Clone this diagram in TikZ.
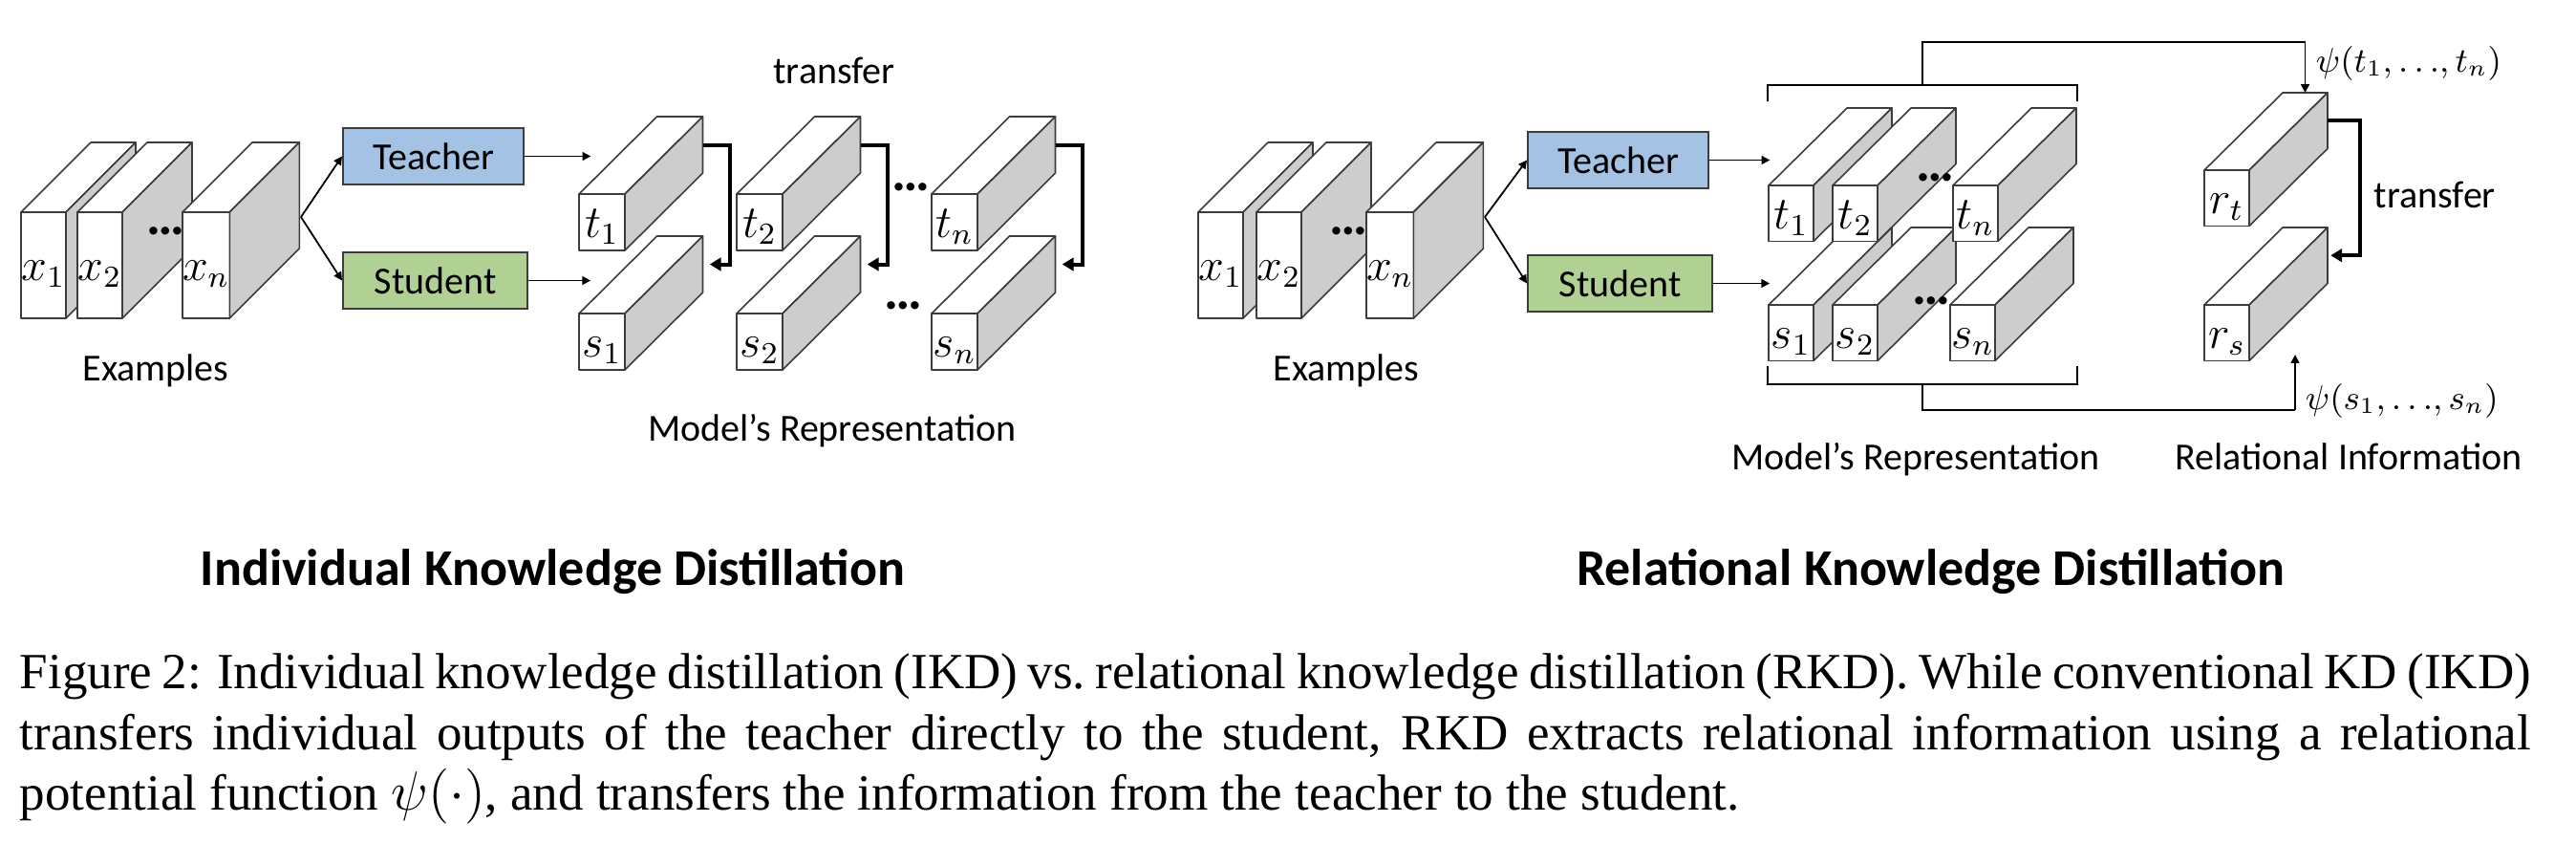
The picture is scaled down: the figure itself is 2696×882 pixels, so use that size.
\documentclass[tikz,border=0pt]{standalone}
\usepackage{fontspec}
\setmainfont{Carlito}
\newfontfamily\capfont{Liberation Serif}
\usetikzlibrary{arrows.meta,calc}

\definecolor{TeacherBlue}{RGB}{164,194,227}
\definecolor{StudentGreen}{RGB}{177,208,148}
\definecolor{SideGray}{RGB}{205,205,205}
\definecolor{EdgeGray}{RGB}{60,60,60}

% top and side faces behind a front-face node, plus two handy points
\newcommand{\slab}[3]{%
  \draw[slabedge, fill=white] (#1.north west) -- ++(#2,#3) -- ($(#1.north east)+(#2,#3)$) -- (#1.north east) -- cycle;
  \draw[slabedge, fill=SideGray] (#1.north east) -- ++(#2,#3) -- ($(#1.south east)+(#2,#3)$) -- (#1.south east) -- cycle;
  \coordinate (#1-back) at ($(#1.east)+(#2,#3)$);
  \coordinate (#1-top) at ($(#1.north)+(#2,#3)$);
}

\begin{document}
\begin{tikzpicture}[x=0.25pt, y=-0.25pt,
lbl/.style={font=\fontsize{10pt}{12pt}\selectfont, inner sep=0pt},
slabedge/.style={draw=EdgeGray, line width=0.4pt, line join=round},
frontface/.style={slabedge, fill=white, anchor=north west, inner sep=0pt, outer sep=0pt,
  text height=8pt, text depth=0pt, font=\fontsize{12pt}{14pt}\selectfont},
xface/.style={frontface, minimum width=11.75pt, minimum height=27.75pt},
iface/.style={frontface, minimum width=12pt, minimum height=14.75pt},
rface/.style={frontface, minimum width=11.75pt, minimum height=14.6pt},
model/.style={draw=EdgeGray, line width=0.5pt, anchor=north west, inner sep=0pt,
  minimum height=14.75pt, font=\fontsize{10pt}{12pt}\selectfont},
ellip/.style={font=\bfseries\fontsize{14pt}{14pt}\selectfont, inner sep=0pt},
thinarrow/.style={line width=0.45pt, -{Triangle[length=2.2pt,width=2.2pt]}},
transfer/.style={line width=1pt, -{Triangle[length=3pt,width=3.4pt]}},
brace/.style={line width=0.7pt},
psilabel/.style={anchor=base west, inner sep=0pt, font=\fontsize{9pt}{11pt}\selectfont},
heading/.style={font=\bfseries\fontsize{13.5pt}{16pt}\selectfont, inner sep=0pt, anchor=base}]
\useasboundingbox (0,0) rectangle (2696,882);

% ---- individual knowledge distillation ----
\node[xface] (ix1) at (22,222) {$x_1$}; \slab{ix1}{73}{-73}
\node[xface] (ix2) at (81,222) {$x_2$}; \slab{ix2}{73}{-73}
\node[xface] (ixn) at (191,222) {$x_n$}; \slab{ixn}{73}{-73}
\node[ellip] (ixdots) at (173,242) {…};
\node[lbl, anchor=base] (iexamples) at (163,398) {Examples};

\node[model, fill=TeacherBlue, minimum width=47.35pt] (iteacher) at (358,133) {Teacher};
\node[model, fill=StudentGreen, minimum width=48.3pt] (istudent) at (358,263) {Student};
\coordinate (ifork) at (315,227);
\draw[thinarrow] (ifork) -- (iteacher.west);
\draw[thinarrow] (ifork) -- (istudent.west);

\node[iface] (it1) at (606,203) {$t_1$}; \slab{it1}{81.5}{-81}
\node[iface] (it2) at (771,203) {$t_2$}; \slab{it2}{81.5}{-81}
\node[iface] (itn) at (975,203) {$t_n$}; \slab{itn}{81.5}{-81}
\node[iface] (is1) at (606,328) {$s_1$}; \slab{is1}{81.5}{-81}
\node[iface] (is2) at (771,328) {$s_2$}; \slab{is2}{81.5}{-81}
\node[iface] (isn) at (975,328) {$s_n$}; \slab{isn}{81.5}{-81}
\node[ellip] (itdots) at (953,196) {…};
\node[ellip] (isdots) at (945,320) {…};

\draw[thinarrow] (iteacher.east) -- ++(69,0);
\draw[thinarrow] (istudent.east) -- ++(65,0);
\draw[transfer, shorten >=1.8pt] (it1-back) -- ++(28,0) |- (is1-back);
\draw[transfer, shorten >=1.8pt] (it2-back) -- ++(28,0) |- (is2-back);
\draw[transfer, shorten >=1.8pt] (itn-back) -- ++(28,0) |- (isn-back);
\node[lbl, anchor=base] (itransfer) at (873,87) {transfer};
\node[lbl, anchor=base] (imodel) at (871,461) {Model’s Representation};

% ---- relational knowledge distillation ----
\node[xface] (rx1) at (1254,222) {$x_1$}; \slab{rx1}{73}{-73}
\node[xface] (rx2) at (1315,222) {$x_2$}; \slab{rx2}{73}{-73}
\node[xface] (rxn) at (1430,222) {$x_n$}; \slab{rxn}{73}{-73}
\node[ellip] (rxdots) at (1411,242) {…};
\node[lbl, anchor=base] (rexamples) at (1409,398) {Examples};

\node[model, fill=TeacherBlue, minimum width=47.35pt] (rteacher) at (1598,137) {Teacher};
\node[model, fill=StudentGreen, minimum width=48.3pt] (rstudent) at (1598,266) {Student};
\coordinate (rfork) at (1554,227);
\draw[thinarrow] (rfork) -- (rteacher.west);
\draw[thinarrow] (rfork) -- (rstudent.west);

\node[rface] (rs1) at (1851,319) {$s_1$}; \slab{rs1}{82}{-81}
\node[rface] (rs2) at (1918,319) {$s_2$}; \slab{rs2}{82}{-81}
\node[rface] (rsn) at (2041,319) {$s_n$}; \slab{rsn}{82}{-81}
\node[rface] (rt1) at (1851,194) {$t_1$}; \slab{rt1}{82}{-81}
\node[rface] (rt2) at (1918,194) {$t_2$}; \slab{rt2}{82}{-81}
\node[rface] (rtn) at (2044,194) {$t_n$}; \slab{rtn}{82}{-81}
\node[ellip] (rtdots) at (2025,186) {…};
\node[ellip] (rsdots) at (2021,315) {…};
\draw[thinarrow] (rteacher.east) -- ++(63,0);
\draw[thinarrow] (rstudent.east) -- ++(59,0);

\node[rface] (relt) at (2307,178) {$r_t$}; \slab{relt}{82}{-81}
\node[rface] (rels) at (2307,319) {$r_s$}; \slab{rels}{82}{-81}
\draw[transfer, shorten >=0.8pt] (relt-back) -- ++(34,0) |- (rels-back);
\node[lbl, anchor=base west] (rtransfer) at (2484,217) {transfer};

% brackets feeding the relational potential
\draw[brace] (1850,106) -- (1850,89) -- (2174,89) -- (2174,106);
\draw[brace] (1850,383) -- (1850,402) -- (2174,402) -- (2174,383);
\coordinate (tstem) at (2012,89);
\coordinate (sstem) at (2012,402);
\coordinate (psit) at (relt-top |- 0,44);
\coordinate (psis) at (2402,429);
\coordinate (rsin) at (2402,371);
\draw[brace] (tstem) |- (psit);
\draw[thinarrow] (psit) -- (relt-top);
\draw[brace] (sstem) |- (psis);
\draw[thinarrow] (psis) -- (rsin);
\node[psilabel] (psitlabel) at (2423,75) {$\psi(t_1,{\ldotp\ldotp\ldotp},t_n)$};
\node[psilabel] (psislabel) at (2412,428) {$\psi(s_1,{\ldotp\ldotp\ldotp},s_n)$};

\node[lbl, anchor=base] (rmodel) at (2005,491) {Model’s Representation};
\node[lbl, anchor=base] (rinfo) at (2458,491) {Relational Information};

% ---- titles and caption ----
\node[heading] (ititle) at (578.5,612) {Individual Knowledge Distillation};
\node[heading] (rtitle) at (2020.5,612) {Relational Knowledge Distillation};
\node[anchor=north west, inner sep=0pt, text width=657pt, align=justify,
  font=\capfont\fontsize{13.25pt}{15.9pt}\selectfont] (caption) at (20,683)
  {Figure 2: Individual knowledge distillation (IKD) vs.\ relational knowledge distillation (RKD). While conventional KD (IKD)\linebreak
   transfers individual outputs of the teacher directly to the student, RKD extracts relational information using a relational\linebreak
   potential function $\psi(\cdot)$, and transfers the information from the teacher to the student.};
\end{tikzpicture}
\end{document}
